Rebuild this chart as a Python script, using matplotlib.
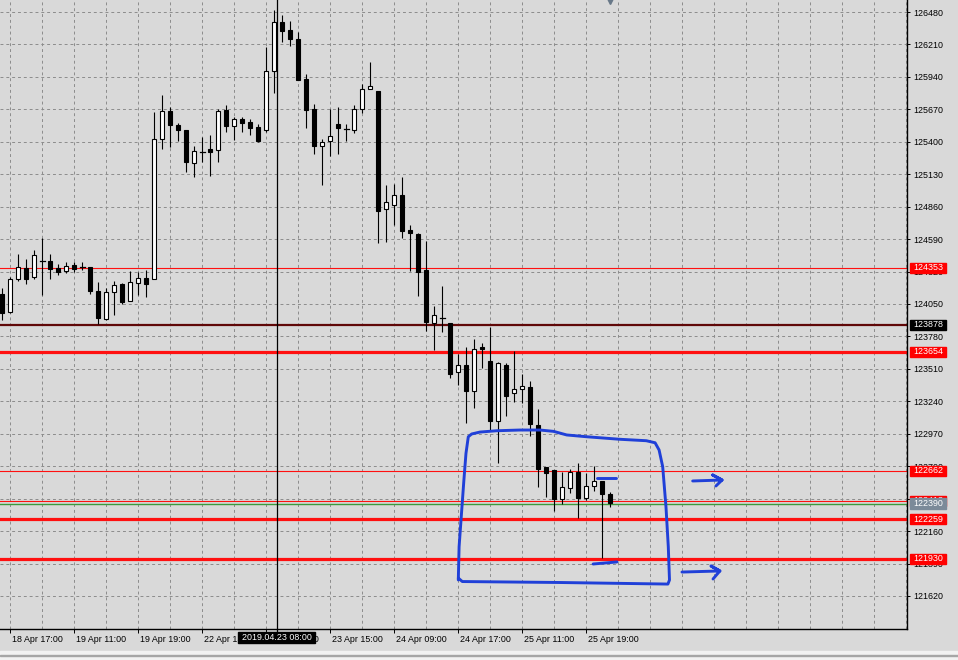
import matplotlib
matplotlib.use("Agg")
import matplotlib.pyplot as plt
from matplotlib.patches import Rectangle
from matplotlib import transforms

plt.rcParams['font.family'] = ['Liberation Sans', 'DejaVu Sans']

# hourly candles, bar index 0..76
opens = [124133, 123981, 124255, 124352, 124272, 124408, 124405, 124352, 124327, 124374,
         124362, 124355, 124158, 123925, 124147, 124214, 124077, 124227, 124264, 124255,
         125421, 125656, 125540, 125498, 125221, 125317, 125340, 125334, 125664, 125534,
         125590, 125562, 125523, 125501, 125987, 126394, 126330, 126255, 125922, 125673,
         125362, 125404, 125548, 125512, 125501, 125670, 125842, 125823, 124843, 124876,
         124957, 124666, 124635, 124333, 123889, 123939, 123889, 123481, 123542, 123323,
         123694, 123575, 123078, 123542, 123307, 123340, 123359, 123040, 122691, 122668,
         122429, 122521, 122649, 122438, 122532, 122577, 122468]
highs = [124183, 124275, 124466, 124424, 124500, 124597, 124466, 124383, 124402, 124402,
         124397, 124360, 124235, 124185, 124241, 124225, 124324, 124319, 124333, 125645,
         125789, 125692, 125554, 125502, 125365, 125442, 125456, 125673, 125704, 125609,
         125609, 125590, 125545, 126191, 126497, 126455, 126408, 126311, 125964, 125712,
         125421, 125670, 125687, 125548, 125704, 125878, 126061, 125823, 125040, 125046,
         125109, 124707, 124643, 124577, 124033, 124200, 123894, 123634, 123694, 123756,
         123723, 123861, 123570, 123561, 123659, 123467, 123409, 123173, 122693, 122668,
         122652, 122674, 122729, 122641, 122701, 122577, 122485]
lows = [123917, 123975, 124244, 124214, 124260, 124122, 124260, 124291, 124310, 124316,
        124333, 124133, 123883, 123917, 123956, 124052, 124075, 124125, 124106, 124254,
        125340, 125359, 125409, 125148, 125109, 125229, 125118, 125232, 125484, 125415,
        125484, 125456, 125401, 125484, 125808, 126233, 126200, 125914, 125517, 125298,
        125040, 125282, 125298, 125406, 125471, 125637, 125837, 124555, 124568, 124707,
        124597, 124325, 124119, 123828, 123667, 123814, 123436, 123376, 123062, 123187,
        123515, 123001, 122729, 123118, 123237, 123223, 122954, 122529, 122446, 122329,
        122383, 122474, 122266, 122419, 122496, 121938, 122363]
closes = [123977, 124260, 124355, 124260, 124458, 124404, 124344, 124316, 124366, 124341,
          124358, 124160, 123936, 124147, 124205, 124069, 124230, 124269, 124214, 125421,
          125656, 125542, 125500, 125234, 125321, 125315, 125317, 125656, 125534, 125590,
          125559, 125517, 125406, 125989, 126394, 126324, 126253, 125914, 125667, 125367,
          125396, 125446, 125515, 125510, 125670, 125837, 125862, 124826, 124896, 124955,
          124660, 124643, 124319, 123903, 123958, 123937, 123467, 123539, 123328, 123673,
          123678, 123078, 123556, 123287, 123342, 123365, 123051, 122676, 122646, 122427,
          122524, 122649, 122435, 122532, 122574, 122466, 122390]

time_bars = [1, 9, 17, 25, 33, 41, 49, 57, 65, 73]
time_labels = ['18 Apr 17:00', '19 Apr 11:00', '19 Apr 19:00', '22 Apr 15:00', '23 Apr 07:00',
               '23 Apr 15:00', '24 Apr 09:00', '24 Apr 17:00', '25 Apr 11:00', '25 Apr 19:00']
price_ticks = list(range(126480, 121600, -270))

# horizontal level lines
level_prices = [124353, 123878, 123654, 122662, 122413, 122259, 121930]
level_colors = ['#ff1010', '#600808', '#ff1010', '#ff1010', '#ff1010', '#ff1010', '#ff1010']
level_widths = [0.8, 1.6, 2.3, 0.8, 0.8, 2.3, 2.3]
level_boxes = ['#ff0000', '#000000', '#ff0000', '#ff0000', '#ff0000', '#ff0000', '#ff0000']
green_level = 122385
bid_price = 122390
vline_bar = 34
vline_label = '2019.04.23 08:00'

# hand drawn blue marks (bar index, price)
box_bars = [57.0, 57.1, 57.4, 57.7, 57.96, 58.25, 58.67, 59.7, 61.8, 64.7, 67.2, 68.9, 70.55,
            73.05, 77.2, 80.5, 81.6, 82.1, 82.55, 82.96, 83.25, 83.4, 83.2, 69.7, 57.5, 57.0]
box_prices = [121753, 122030, 122308, 122585, 122807, 122945, 122968, 122984, 122995, 123001,
              123001, 122990, 122960, 122945, 122924, 122912, 122895, 122835, 122696, 122363,
              122030, 121753, 121719, 121732, 121740, 121769]
dash_top_bars = [74.3, 76.7]
dash_top_prices = [122602, 122602]
dash_low_bars = [73.85, 76.84]
dash_low_prices = [121886, 121903]
arrow1_bars = [86.3, 89.97, 88.8, 89.97, 89.2]
arrow1_prices = [122577, 122585, 122627, 122585, 122535]
arrow2_bars = [84.96, 89.7, 88.6, 89.7, 88.84]
arrow2_prices = [121819, 121828, 121869, 121828, 121761]

W, H = 958, 660
BG = '#d9d9d9'
fig = plt.figure(figsize=(W / 100, H / 100), dpi=100, facecolor=BG)
ax = fig.add_axes([0, (H - 629) / H, 907 / W, 629 / H], facecolor=BG)
ax.set_xlim(-0.29, 113.09)
ax.set_ylim(121345, 126580)

# candles
body_w = 0.5
for i in range(len(opens)):
    o, h, l, c = opens[i], highs[i], lows[i], closes[i]
    ax.plot([i, i], [l, h], color='black', lw=0.8, zorder=3, solid_capstyle='butt')
    if abs(c - o) < 12:
        ax.plot([i - body_w / 2 - 0.06, i + body_w / 2 + 0.06], [c, c], color='black', lw=0.9, zorder=4)
    else:
        ax.add_patch(Rectangle((i - body_w / 2, min(o, c)), body_w, abs(c - o),
                               facecolor='white' if c > o else 'black',
                               edgecolor='black', lw=0.8, zorder=4))

# levels
for p, col, lw in zip(level_prices, level_colors, level_widths):
    ax.axhline(p, color=col, lw=lw, zorder=2)
ax.axhline(green_level, color='#3c9a3c', lw=1.0, zorder=2)
ax.axvline(vline_bar + 0.28, ymin=-0.006, color='black', lw=0.9, zorder=2, clip_on=False)

# blue annotations
blue = '#2040d8'
for xs, ys in [(box_bars, box_prices), (dash_top_bars, dash_top_prices),
               (dash_low_bars, dash_low_prices), (arrow1_bars, arrow1_prices),
               (arrow2_bars, arrow2_prices)]:
    ax.plot(xs, ys, color=blue, lw=2.1, zorder=8, solid_capstyle='round', solid_joinstyle='round')

# chart shift marker
ax.plot([len(opens) - 1], [126580 - 12], marker='v', ms=5, color='#687888', zorder=9, clip_on=False)

# axes / grid
ax.set_axisbelow(True)
ax.yaxis.tick_right()
ax.set_yticks(price_ticks)
ax.set_yticklabels([str(p) for p in price_ticks])
ax.set_xticks(time_bars)
ax.set_xticklabels(time_labels)
ax.set_xticks(list(range(1, 114, 4)), minor=True)
ax.tick_params(axis='y', which='major', direction='out', length=2.2, width=0.7, pad=2.5,
               labelsize=6.4, colors='black')
ax.tick_params(axis='x', which='major', direction='out', length=3.0, width=0.7, pad=1.0,
               labelsize=6.4, colors='black')
ax.tick_params(axis='x', which='minor', length=0)
ax.grid(True, which='both', axis='x', color='#8c8c8c', lw=0.7, linestyle=(0, (3, 3)))
ax.grid(True, which='major', axis='y', color='#8c8c8c', lw=0.7, linestyle=(0, (3, 3)))
off = transforms.ScaledTranslation(2 / 100, 0, fig.dpi_scale_trans)
for lab in ax.get_xticklabels():
    lab.set_horizontalalignment('left')
    lab.set_transform(lab.get_transform() + off)

for side in ['left', 'top']:
    ax.spines[side].set_visible(False)
for side in ['right', 'bottom']:
    ax.spines[side].set_color('black')
    ax.spines[side].set_linewidth(1.0)

# price label boxes on the scale
tr = transforms.blended_transform_factory(ax.transAxes, ax.transData)
bx0, bw, bh = 910 / 907, 36 / 907, 10 * 8.323
for p, col in zip(level_prices, level_boxes):
    ax.add_patch(Rectangle((bx0, p - bh / 2), bw, bh, transform=tr, color=col, clip_on=False, zorder=10))
    ax.text(bx0 + bw / 2, p, str(p), transform=tr, color='white', fontsize=6.4,
            ha='center', va='center', clip_on=False, zorder=11)
ax.add_patch(Rectangle((bx0, bid_price - bh / 2 - 8), bw, bh + 8, transform=tr, color='#7b8a99',
                       clip_on=False, zorder=12))
ax.text(bx0 + bw / 2, bid_price - 4, str(bid_price), transform=tr, color='white', fontsize=6.4,
        ha='center', va='center', clip_on=False, zorder=13)

# crosshair time label
fig.patches.append(Rectangle((238 / W, (H - 643) / H), 77 / W, 11 / H, transform=fig.transFigure,
                             color='black', zorder=5))
fig.text(276.5 / W, (H - 637.5) / H, vline_label, color='white', fontsize=6.4,
         ha='center', va='center', zorder=6)

# bottom window strip
fig.patches.append(Rectangle((0, 0), 1, 9 / H, transform=fig.transFigure, color='#f2f2f2', zorder=2))
fig.patches.append(Rectangle((0, 4 / H), 1, 1 / H, transform=fig.transFigure, color='#a6a6a6', zorder=3))

fig.savefig('out.png', dpi=100, facecolor=BG)
